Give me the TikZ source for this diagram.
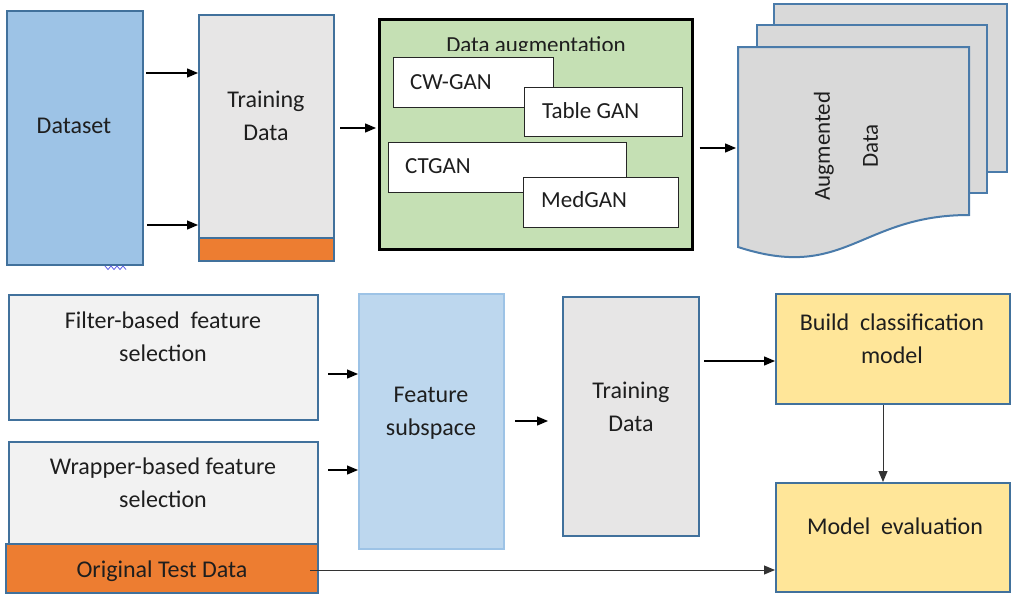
\documentclass[tikz,border=0pt]{standalone}
\usepackage{fontspec}
\setmainfont{Carlito}
\usetikzlibrary{arrows.meta}

\definecolor{edgeblue}{HTML}{41719C}
\definecolor{dsfill}{HTML}{9DC3E6}
\definecolor{greyfill}{HTML}{E7E6E6}
\definecolor{palegrey}{HTML}{F2F2F2}
\definecolor{orangefill}{HTML}{ED7D31}
\definecolor{greenfill}{HTML}{C5E0B4}
\definecolor{subfill}{HTML}{BDD7EE}
\definecolor{yellowfill}{HTML}{FFE699}
\definecolor{sheetfill}{HTML}{D9D9D9}
\definecolor{sheetedge}{HTML}{4A7BAA}
\definecolor{txt}{HTML}{1E1E1E}
\definecolor{squigblue}{HTML}{5A5AE6}

\tikzset{
  box/.style={draw=edgeblue, line width=2pt, inner sep=0pt, anchor=north west},
  ganbox/.style={draw=black!85, fill=white, line width=1.2pt, inner sep=0pt, anchor=north west},
  lbl/.style={font=\fontsize{24}{33}\selectfont, text=txt, align=center, inner sep=0pt},
  ganlbl/.style={font=\fontsize{23}{28}\selectfont, text=txt, inner sep=0pt, anchor=base west},
  arr/.style={line width=1.3pt, -{Triangle[length=11pt,width=9pt]}},
  thinarr/.style={line width=1pt, draw=black!80, -{Triangle[length=11pt,width=9pt]}},
  sheet/.style={draw=sheetedge, fill=sheetfill, line width=2pt, line join=miter}
}

\begin{document}
\begin{tikzpicture}[x=1pt,y=-1pt]
\useasboundingbox (0,0) rectangle (1015,595);

% ---------- upper row ----------
\node[box, fill=dsfill, minimum width=136pt, minimum height=254pt] (dataset) at (6,10) {};
\node[lbl] (datasettxt) at (74,126) {Dataset};
\draw[squigblue, line width=0.8pt] (105,266) -- (108,269.5) -- (111,266) -- (114,269.5) -- (117,266) -- (120,269.5) -- (123,266) -- (126,269.5);

\node[box, fill=greyfill, minimum width=135pt, minimum height=246pt] (train1) at (198,14) {};
\node[box, fill=orangefill, minimum width=135pt, minimum height=23pt] (trainbar) at (198,237) {};
\node[lbl] (train1txt) at (266,116) {Training\\Data};

\draw[arr, shorten <=2pt] (dataset.east |- 0,73) -- (train1.west |- 0,73);
\draw[arr, shorten <=3pt] (dataset.east |- 0,225) -- (train1.west |- 0,225);

% data augmentation block
\node[draw=black, line width=2.5pt, fill=greenfill, inner sep=0pt, anchor=north west,
      minimum width=313pt, minimum height=230pt] (aug) at (378,18) {};
\begin{scope}
  \clip (380,20) rectangle (689,50);
  \node[font=\fontsize{23}{26}\selectfont, text=txt, inner sep=0pt, anchor=base] (augtitle) at (536,52) {Data augmentation};
\end{scope}
\node[ganbox, minimum width=160pt, minimum height=50pt] (cwgan) at (393,57) {};
\node[ganlbl] (cwgantxt) at (410,89) {CW-GAN};
\node[ganbox, minimum width=158pt, minimum height=49pt] (tablegan) at (524,87) {};
\node[ganlbl] (tablegantxt) at (542,118) {Table GAN};
\node[ganbox, minimum width=238pt, minimum height=50pt] (ctgan) at (388,142) {};
\node[ganlbl] (ctgantxt) at (405,173) {CTGAN};
\node[ganbox, minimum width=155pt, minimum height=50pt] (medgan) at (523,177) {};
\node[ganlbl] (medgantxt) at (541,207) {MedGAN};

\draw[arr, shorten <=5pt, shorten >=2pt] (train1.east |- 0,128) -- (aug.west |- 0,128);

% stacked documents
\draw[sheet] (774,4) rectangle (1007,172);
\draw[sheet] (757,25) rectangle (987,193);
\draw[sheet] (738,47) -- (969,47) -- (969,215)
   .. controls (860,215) and (845,282) .. (738,247) -- cycle;
\coordinate (sheetin) at (736,148);
\node[font=\fontsize{23}{48}\selectfont, text=txt, align=center, inner sep=0pt, rotate=90] (augdata) at (846,146) {Augmented\\Data};

\draw[arr, shorten <=6pt] (aug.east |- 0,148) -- (sheetin);

% ---------- lower row ----------
\node[box, fill=palegrey, minimum width=309pt, minimum height=125pt] (filter) at (8,294) {};
\node[lbl] (filtertxt) at (163,337) {Filter-based\ \ feature\\selection};
\node[box, fill=palegrey, minimum width=309pt, minimum height=102pt] (wrapper) at (8,441) {};
\node[lbl] (wrappertxt) at (163,483) {Wrapper-based feature\\selection};
\node[box, fill=orangefill, minimum width=312pt, minimum height=49pt] (testdata) at (5,543) {};
\node[lbl] (testtxt) at (162,571) {Original Test Data};

\node[draw=dsfill, line width=2pt, fill=subfill, inner sep=0pt, anchor=north west,
      minimum width=145pt, minimum height=255pt] (subspace) at (358,293) {};
\node[lbl] (subspacetxt) at (431,413) {Feature\\subspace};

\node[box, fill=greyfill, minimum width=136pt, minimum height=239pt] (train2) at (562,296) {};
\node[lbl] (train2txt) at (631,407) {Training\\Data};

\node[box, fill=yellowfill, minimum width=234pt, minimum height=110pt] (build) at (775,293) {};
\node[lbl] (buildtxt) at (892,339) {Build\ \ classification\\model};
\node[box, fill=yellowfill, minimum width=234pt, minimum height=109pt] (evalbox) at (775,482) {};
\node[lbl] (evaltxt) at (895,526) {Model\ \ evaluation};

\draw[arr, shorten <=9pt] (filter.east |- 0,374) -- (subspace.west |- 0,374);
\draw[arr, shorten <=9pt] (wrapper.east |- 0,470) -- (subspace.west |- 0,470);
\draw[arr, shorten <=10pt, shorten >=14pt] (subspace.east |- 0,421) -- (train2.west |- 0,421);
\draw[arr, shorten <=4pt] (train2.east |- 0,361) -- (build.west |- 0,361);
\draw[thinarr] (build.south -| 883,0) -- (evalbox.north -| 883,0);
\draw[thinarr, shorten <=-9pt] (testdata.east |- 0,570) -- (evalbox.west |- 0,570);

\end{tikzpicture}
\end{document}
